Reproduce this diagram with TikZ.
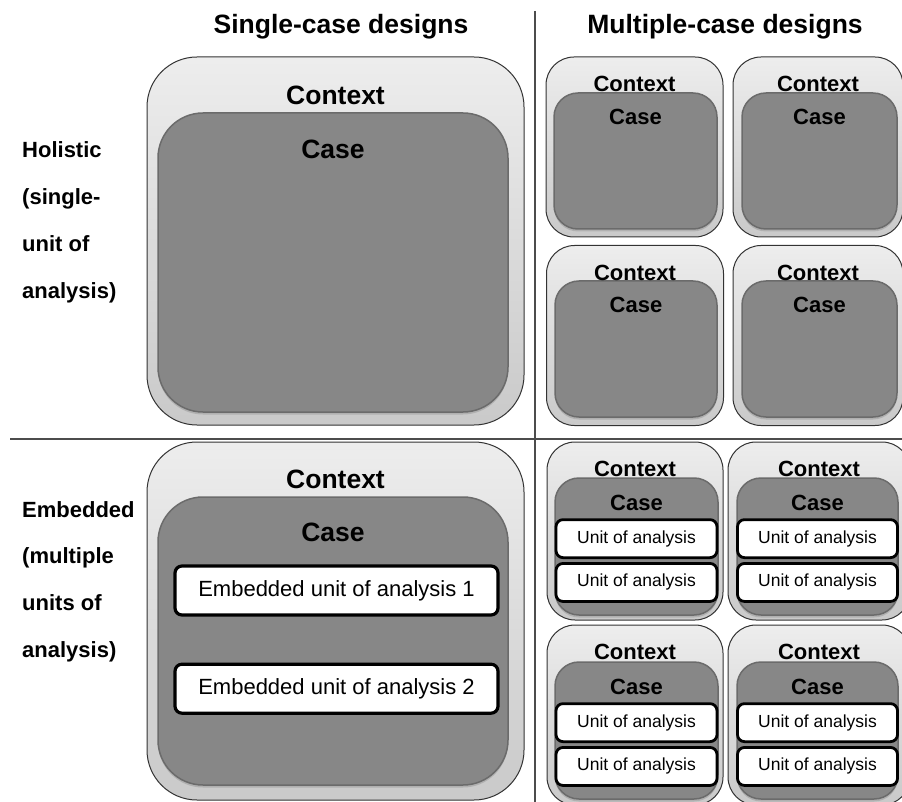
\documentclass[tikz,border=0pt]{standalone}
\usepackage{fontspec}
\setmainfont{Liberation Sans}
\usepackage{tikz}
\usetikzlibrary{positioning,shadows,calc}

\begin{document}
\begin{tikzpicture}[x=1pt,y=-1pt,
  ctxbox/.style={draw=black!80,line width=1pt,rounded corners=#1,top color=black!7,bottom color=black!21,inner sep=0pt},
  casebox/.style={draw=black!58,line width=1.5pt,rounded corners=#1,fill=black!47,inner sep=0pt,drop shadow={opacity=0.35,shadow xshift=0pt,shadow yshift=-2.5pt}},
  unitbox/.style={draw=black,line width=#1,rounded corners=7pt,fill=white,inner sep=0pt},
  headtxt/.style={font=\fontsize{26.5}{30}\selectfont\bfseries,inner sep=0pt},
  bigtxt/.style={font=\fontsize{26.5}{30}\selectfont\bfseries,inner sep=0pt},
  smalltxt/.style={font=\fontsize{22}{25}\selectfont\bfseries,inner sep=0pt},
  rowlbl/.style={font=\fontsize{22}{25}\selectfont\bfseries,inner sep=0pt,anchor=base west},
  sepline/.style={draw=black!70,line width=1.2pt}]
\useasboundingbox (0,0) rectangle (902,802);
\clip (0,0) rectangle (902,802);
\fill[white] (0,0) rectangle (902,802);

\node[headtxt,anchor=base] (hsingle) at (341,34) {Single-case designs};
\node[headtxt,anchor=base] (hmulti) at (725,34) {Multiple-case designs};
\coordinate (vtop) at (535,11); \coordinate (vbot) at (535,802);
\coordinate (hleft) at (10,439); \coordinate (hright) at (902,439);
\draw[sepline] (vtop) -- (vbot);
\draw[sepline] (hleft) -- (hright);

\foreach \t [count=\i] in {Holistic,{(single-},{unit of},{analysis)}}
  \node[rowlbl] (hol\i) at (22,{158+46.7*(\i-1)}) {\t};
\foreach \t [count=\i] in {Embedded,{(multiple},{units of},{analysis)}}
  \node[rowlbl] (emb\i) at (22,{517+46.7*(\i-1)}) {\t};

\node[ctxbox=50pt,minimum width=377pt,minimum height=368pt] (ctxhol) at (335.5,241) {};
\node[casebox=45pt,minimum width=350pt,minimum height=299pt] (casehol) at (333,262.5) {};
\node[bigtxt,below=29.5pt of ctxhol.north] (ctxholt) {Context};
\node[bigtxt,below=27.5pt of casehol.north] (caseholt) {Case};

\node[ctxbox=50pt,minimum width=377pt,minimum height=358pt] (ctxemb) at (335.5,621) {};
\node[casebox=45pt,minimum width=350pt,minimum height=288pt] (caseemb) at (333,641) {};
\node[bigtxt,below=28.5pt of ctxemb.north] (ctxembt) {Context};
\node[bigtxt,below=26.5pt of caseemb.north] (caseembt) {Case};
\node[unitbox=3.2pt,minimum width=323pt,minimum height=49pt,font=\fontsize{22}{26}\selectfont] (embu1) at (336.5,590.5) {Embedded unit of analysis 1};
\node[unitbox=3.2pt,minimum width=323pt,minimum height=49pt,font=\fontsize{22}{26}\selectfont,below=46pt of embu1] (embu2) {Embedded unit of analysis 2};

\foreach \nm/\cx/\cw/\kx/\kw/\cy/\ky in {a/634.5/177/635.5/163/147/161,b/818/170/819.5/155/147/161,c/635/177/636/162/335.5/349,d/818/170/819.5/155/335.5/349}{
  \node[ctxbox=28pt,minimum width=\cw pt,minimum height=180pt] (ctx\nm) at (\cx,\cy) {};
  \node[casebox=24pt,minimum width=\kw pt,minimum height=136pt] (case\nm) at (\kx,\ky) {};
  \node[smalltxt,below=19.5pt of ctx\nm.north] (ctxt\nm) {Context};
  \node[smalltxt,below=16.5pt of case\nm.north] (caset\nm) {Case};
}

\foreach \nm/\cx/\cw/\cy/\ch/\kx/\kw/\ky/\ux/\uw in {e/635/176/531/178/636.5/163/546.5/637.5/161,f/819/182/531/178/817.5/161/546.5/818/160,g/635/176/715/180/636.5/163/730.5/637.5/161,h/819/182/715/180/817.5/161/730.5/818/160}{
  \node[ctxbox=28pt,minimum width=\cw pt,minimum height=\ch pt] (ctx\nm) at (\cx,\cy) {};
  \node[casebox=24pt,minimum width=\kw pt,minimum height=137pt] (case\nm) at (\kx,\ky) {};
  \node[smalltxt,below=19.5pt of ctx\nm.north] (ctxt\nm) {Context};
  \node[smalltxt,below=17.5pt of case\nm.north] (caset\nm) {Case};
  \node[unitbox=2.8pt,minimum width=\uw pt,minimum height=38pt,font=\fontsize{17.5}{20}\selectfont,below=41pt of case\nm.north] (unit\nm1) {Unit of analysis};
  \node[unitbox=2.8pt,minimum width=\uw pt,minimum height=38pt,font=\fontsize{17.5}{20}\selectfont,below=3pt of unit\nm1] (unit\nm2) {Unit of analysis};
}
\end{tikzpicture}
\end{document}
